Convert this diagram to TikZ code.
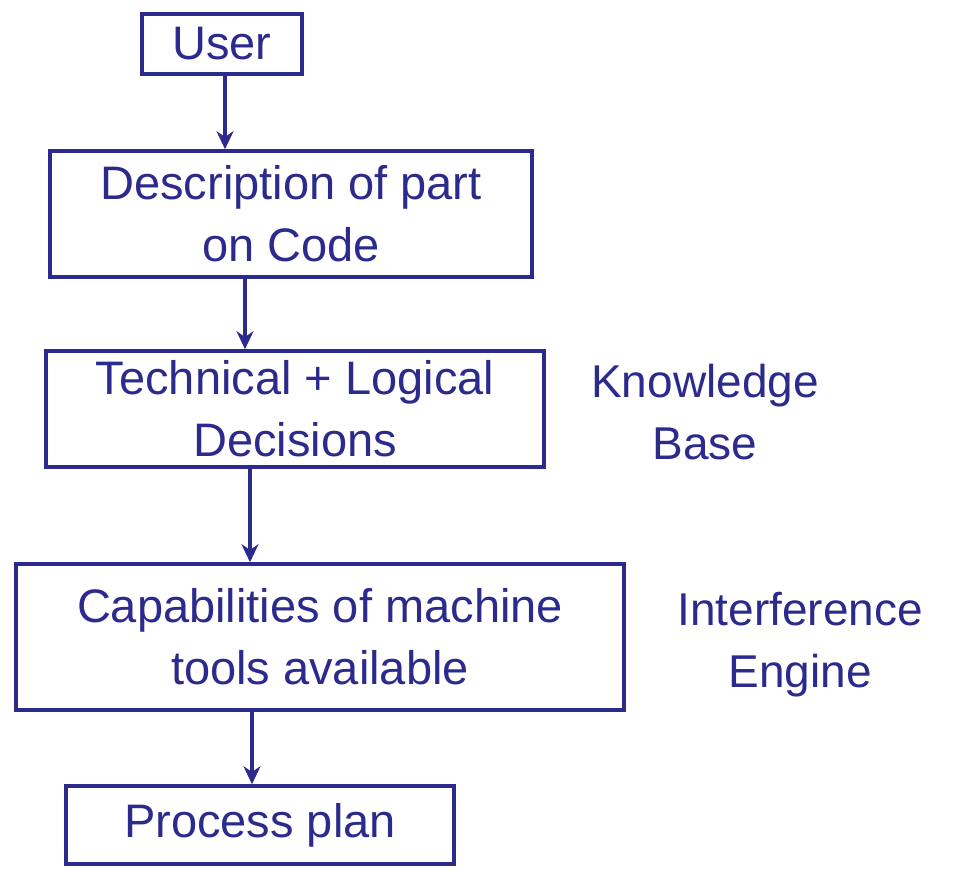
\documentclass[tikz,border=0pt]{standalone}
\usepackage{fontspec}
\setmainfont{Liberation Sans}
\usetikzlibrary{arrows.meta,calc}
\definecolor{ink}{RGB}{44,42,140}
\begin{document}
\begin{tikzpicture}[x=1pt,y=-1pt,
  ink line/.style={draw=ink,line width=3.6pt},
  stepbox/.style={ink line,rectangle,inner sep=0pt,align=center,text=ink,
    font=\fontsize{47}{62}\selectfont},
  sidelabel/.style={align=center,text=ink,font=\fontsize{46}{62}\selectfont},
  flow/.style={ink line,-{Stealth[length=18pt,width=17pt]}}]
\useasboundingbox (0,0) rectangle (965,870);
\fill[white] (0,0) rectangle (965,870);

% process steps
\node[stepbox,minimum width=160,minimum height=60] (user) at (222,44) {User};
\node[stepbox,minimum width=482,minimum height=126] (desc) at (291,214)
  {Description of part\\on Code};
\node[stepbox,minimum width=498,minimum height=116] (tech) at (295,409)
  {Technical + Logical\\Decisions};
\node[stepbox,minimum width=608,minimum height=146] (cap) at (320,637)
  {Capabilities of machine\\tools available};
\node[stepbox,minimum width=388,minimum height=78] (plan) at (260,825)
  {Process plan};

% side annotations
\node[sidelabel] (kb) at (705,412) {Knowledge\\Base};
\node[sidelabel] (ie) at (800,645) {Interference\\Engine};

% connectors
\draw[flow] ([xshift=3pt]user.south) -- ([xshift=3pt]user.south |- desc.north);
\draw[flow] ([xshift=-46pt]desc.south) -- ([xshift=-46pt]desc.south |- tech.north);
\draw[flow] ([xshift=-45pt]tech.south) -- ([xshift=-45pt]tech.south |- cap.north);
\draw[flow] ([xshift=-68pt]cap.south) -- ([xshift=-68pt]cap.south |- plan.north);
\end{tikzpicture}
\end{document}
